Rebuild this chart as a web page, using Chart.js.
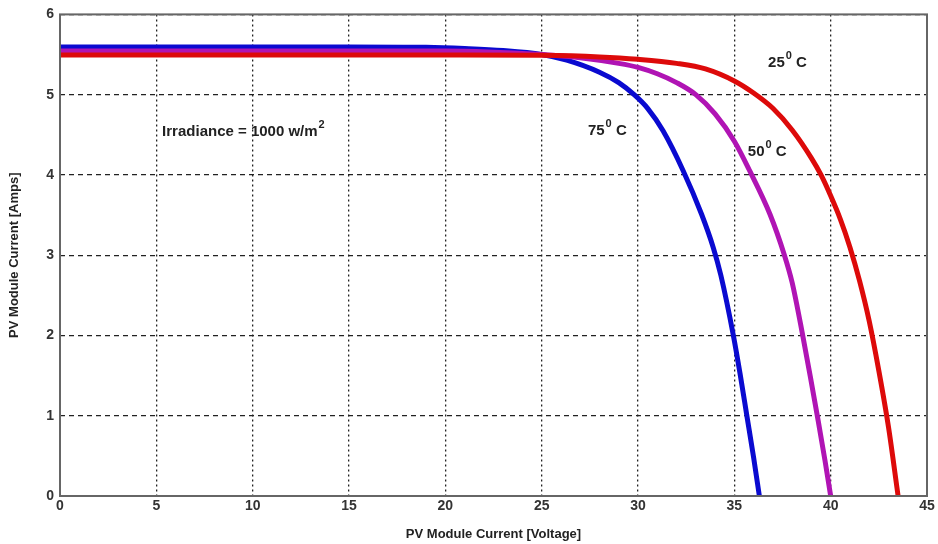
<!DOCTYPE html>
<html>
<head>
<meta charset="utf-8">
<script src="https://cdn.jsdelivr.net/npm/chart.js@4/dist/chart.umd.min.js"></script>
<style>
html,body{margin:0;padding:0;background:#fff;}
#wrap{width:938px;height:544px;position:relative;}
</style>
</head>
<body>
<div id="wrap"><canvas id="c" width="938" height="544"></canvas></div>
<script>
// Data
const xTicks = [0,5,10,15,20,25,30,35,40,45];
const yTicks = [0,1,2,3,4,5,6];

const volt25 = [0,5,10,15,20,25,28,30,32,33.5,35,36,37,38,39,39.5,40,40.5,41,41.5,42,42.5,43,43.5];
const curr25 = [5.495,5.495,5.495,5.495,5.495,5.49,5.47,5.44,5.39,5.32,5.17,5.02,4.83,4.56,4.21,4.0,3.74,3.45,3.1,2.68,2.18,1.56,0.86,0];

const volt50 = [0,5,10,15,20,25,27,29,30,31,32,33,34,35,35.8,36.85,37.6,38,38.55,38.95,39.35,39.7,40.0];
const curr50 = [5.545,5.545,5.545,5.545,5.545,5.5,5.46,5.39,5.34,5.26,5.15,5.0,4.76,4.42,4.05,3.51,3.0,2.66,2.0,1.48,0.94,0.45,0];

const volt75 = [0,5,10,15,19,21,23,25,26.3,28,29,29.8,30.5,31.3,32.35,33.3,33.9,34.3,34.95,35.3,35.65,36.0,36.3];
const curr75 = [5.595,5.595,5.595,5.595,5.59,5.575,5.55,5.5,5.43,5.28,5.15,5.0,4.83,4.55,4.05,3.51,3.1,2.75,2.0,1.52,1.0,0.48,0];

const curveLabels = [
  {base:'25', x:36.75, y:5.35},
  {base:'75', x:27.4, y:4.5},
  {base:'50', x:35.7, y:4.24}
];
const irradianceLabel = {text:'Irradiance = 1000 w/m', sup:'2', x:5.3, y:4.49};

function pts(xs, ys){ return xs.map((v,i)=>({x:v,y:ys[i]})); }

const textPlugin = {
  id:'textPlugin',
  afterDatasetsDraw(chart){
    const ctx = chart.ctx, xs = chart.scales.x, ys = chart.scales.y;
    const a = chart.chartArea;
    ctx.save();
    ctx.fillStyle = '#222';
    ctx.textBaseline = 'alphabetic';
    ctx.textAlign = 'left';
    const big = 'bold 15px "Liberation Sans", Arial, sans-serif';
    const small = 'bold 11px "Liberation Sans", Arial, sans-serif';
    curveLabels.forEach(l=>{
      let px = xs.getPixelForValue(l.x), py = ys.getPixelForValue(l.y);
      ctx.font = big; ctx.fillText(l.base, px, py);
      px += ctx.measureText(l.base).width + 1;
      ctx.font = small; ctx.fillText('0', px, py-8);
      px += ctx.measureText('0').width;
      ctx.font = big; ctx.fillText(' C', px, py);
    });
    {
      let px = xs.getPixelForValue(irradianceLabel.x), py = ys.getPixelForValue(irradianceLabel.y);
      ctx.font = big; ctx.fillText(irradianceLabel.text, px, py);
      px += ctx.measureText(irradianceLabel.text).width + 1;
      ctx.font = small; ctx.fillText(irradianceLabel.sup, px, py-8);
    }
    ctx.strokeStyle = '#666';
    ctx.lineWidth = 2;
    ctx.strokeRect(a.left, a.top, a.right-a.left, a.bottom-a.top);
    ctx.restore();
  }
};

const tickFont = {family:'"Liberation Sans", Arial, sans-serif', size:14, weight:'bold'};
const titleFont = {family:'"Liberation Sans", Arial, sans-serif', size:13, weight:'bold'};

new Chart(document.getElementById('c'), {
  type:'scatter',
  data:{
    datasets:[
      {label:'25 C', data:pts(volt25,curr25), borderColor:'#dd0a0a', borderWidth:5, showLine:true, pointRadius:0, cubicInterpolationMode:'monotone'},
      {label:'50 C', data:pts(volt50,curr50), borderColor:'#b014b4', borderWidth:5, showLine:true, pointRadius:0, cubicInterpolationMode:'monotone'},
      {label:'75 C', data:pts(volt75,curr75), borderColor:'#0a0ad0', borderWidth:5, showLine:true, pointRadius:0, cubicInterpolationMode:'monotone'}
    ]
  },
  options:{
    responsive:false,
    animation:false,
    layout:{padding:{top:12,right:11,left:0,bottom:0}},
    plugins:{legend:{display:false}, tooltip:{enabled:false}},
    scales:{
      x:{
        type:'linear', min:0, max:45,
        afterBuildTicks(s){ s.ticks = xTicks.map(v=>({value:v})); },
        afterFit(s){ s.height = 48; },
        ticks:{font:tickFont, color:'#333', padding:2, maxRotation:0},
        grid:{color:'#222', lineWidth:1.3, drawTicks:false},
        border:{display:false, dash:[2,3]},
        title:{display:true, text:'PV Module Current [Voltage]', font:titleFont, color:'#222', padding:{top:0,bottom:2}}
      },
      y:{
        type:'linear', min:0, max:6,
        afterBuildTicks(s){ s.ticks = yTicks.map(v=>({value:v})); },
        afterFit(s){ s.width = 60; },
        ticks:{font:tickFont, color:'#333', padding:6},
        grid:{color:'#222', lineWidth:1.3, drawTicks:false},
        border:{display:false, dash:[5,4]},
        title:{display:true, text:'PV Module Current [Amps]', font:titleFont, color:'#222', padding:{top:7,bottom:0}}
      }
    }
  },
  plugins:[textPlugin]
});
</script>
</body>
</html>
